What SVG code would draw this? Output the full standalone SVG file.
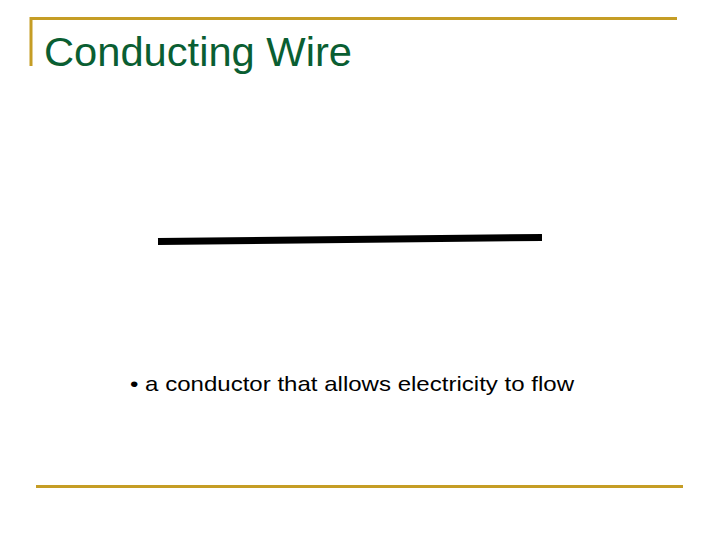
<svg xmlns="http://www.w3.org/2000/svg" width="720" height="540" viewBox="0 0 720 540">
<style>.rule{stroke:#c59d25;stroke-width:3;fill:none}</style>
<rect width="720" height="540" fill="#fff"/>
<g id="frame">
<path class="rule" d="M31 66V18.5H677"/>
<path class="rule" d="M36 486.5H683"/>
</g>
<g id="title"><text x="44" y="66" font-family="Liberation Sans, Arial, sans-serif" font-size="40" textLength="308" lengthAdjust="spacingAndGlyphs" fill="#0a5e32">Conducting Wire</text></g>
<g id="wire"><path d="M158 241.5L542 237.5" stroke="#000" stroke-width="7"/></g>
<g id="caption"><text x="130" y="391" font-family="Liberation Sans, Arial, sans-serif" font-size="21" textLength="444" lengthAdjust="spacingAndGlyphs" fill="#000">• a conductor that allows electricity to flow</text></g>
</svg>
